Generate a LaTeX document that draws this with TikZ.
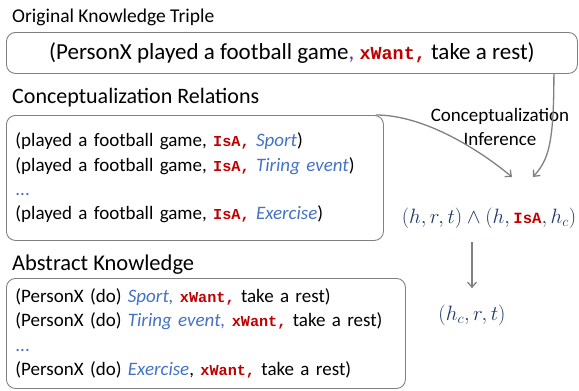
\documentclass[tikz,border=0pt]{standalone}
\usepackage{fontspec}
\setmainfont{Carlito}
\setmonofont{Liberation Mono}[Scale=0.8]
\usetikzlibrary{arrows.meta,positioning}
\definecolor{relred}{HTML}{C00000}
\definecolor{conblue}{HTML}{4472C4}
\definecolor{mathnavy}{HTML}{1F3864}
\definecolor{commapurple}{HTML}{7030A0}
\newcommand{\rel}[1]{\textcolor{relred}{\texttt{\bfseries #1}}}
\newcommand{\con}[1]{\textcolor{conblue}{\itshape #1}}
\tikzset{
    >={Straight Barb[length=5pt,width=9pt]},
    title/.style={anchor=base west, inner sep=0pt, font=\fontsize{19.5}{24}\selectfont},
    kbox/.style={draw=gray, rounded corners=9pt, line width=0.9pt, anchor=north west},
    boxtext/.style={font=\fontsize{19}{24.3}\selectfont, align=left, inner xsep=9pt},
    formula/.style={text=mathnavy, font=\fontsize{19.5}{22}\selectfont},
    flow/.style={->, draw=gray, line width=1.3pt}
}
\begin{document}
\begin{tikzpicture}[x=1pt, y=-1pt]
    \useasboundingbox (0,0) rectangle (579,391);
    % titles
    \node[title] (t1) at (12,22) {Original Knowledge Triple};
    \node[title, font=\fontsize{22}{24}\selectfont] (t2) at (12,103) {Conceptualization Relations};
    \node[title, font=\fontsize{22.5}{24}\selectfont] (t3) at (12,270) {Abstract Knowledge};
    % boxes
    \node[kbox, minimum width=571pt, minimum height=41pt, font=\fontsize{23}{24}\selectfont] (orig) at (6,32)
        {(PersonX played a football game\textcolor{commapurple}{,} \rel{xWant,} take a rest)};
    \node[kbox, boxtext, minimum width=377pt, minimum height=125pt, text width=359pt] (rels) at (6,115)
        {(played a football game, \rel{IsA,} \con{Sport})\\
         (played a football game, \rel{IsA,} \con{Tiring event})\\
         \textcolor{conblue}{...}\\
         (played a football game, \rel{IsA,} \con{Exercise})};
    \node[kbox, boxtext, minimum width=399pt, minimum height=110pt, text width=381pt] (abst) at (6,278)
        {(PersonX (do) \con{Sport,} \rel{xWant,} take a rest)\\
         (PersonX (do) \con{Tiring event,} \rel{xWant,} take a rest)\\
         \textcolor{conblue}{...}\\
         (PersonX (do) \con{Exercise}, \rel{xWant,} take a rest)};
    % right side
    \node[boxtext, align=center] (infer) at (500,127) {Conceptualization\\Inference};
    \node[formula] (concl) at (489,218) {$(h,r,t)\wedge(h,\mbox{\rel{IsA}},h_c)$};
    \node[formula] (res) at (472,315) {$(h_c,r,t)$};
    \coordinate (tipA) at (533,177);
    \coordinate (tipB) at (512,177);
    \draw[flow] ([xshift=-24pt]orig.south east) .. controls +(0,72) and +(15,-17) .. (tipA);
    \draw[flow] ([xshift=-8pt]rels.north east) .. controls +(50,0) and +(-30,-25) .. (tipB);
    \draw[flow] ([yshift=-10pt]concl.south -| res.north) -- ([yshift=13pt]res.north);
\end{tikzpicture}
\end{document}
